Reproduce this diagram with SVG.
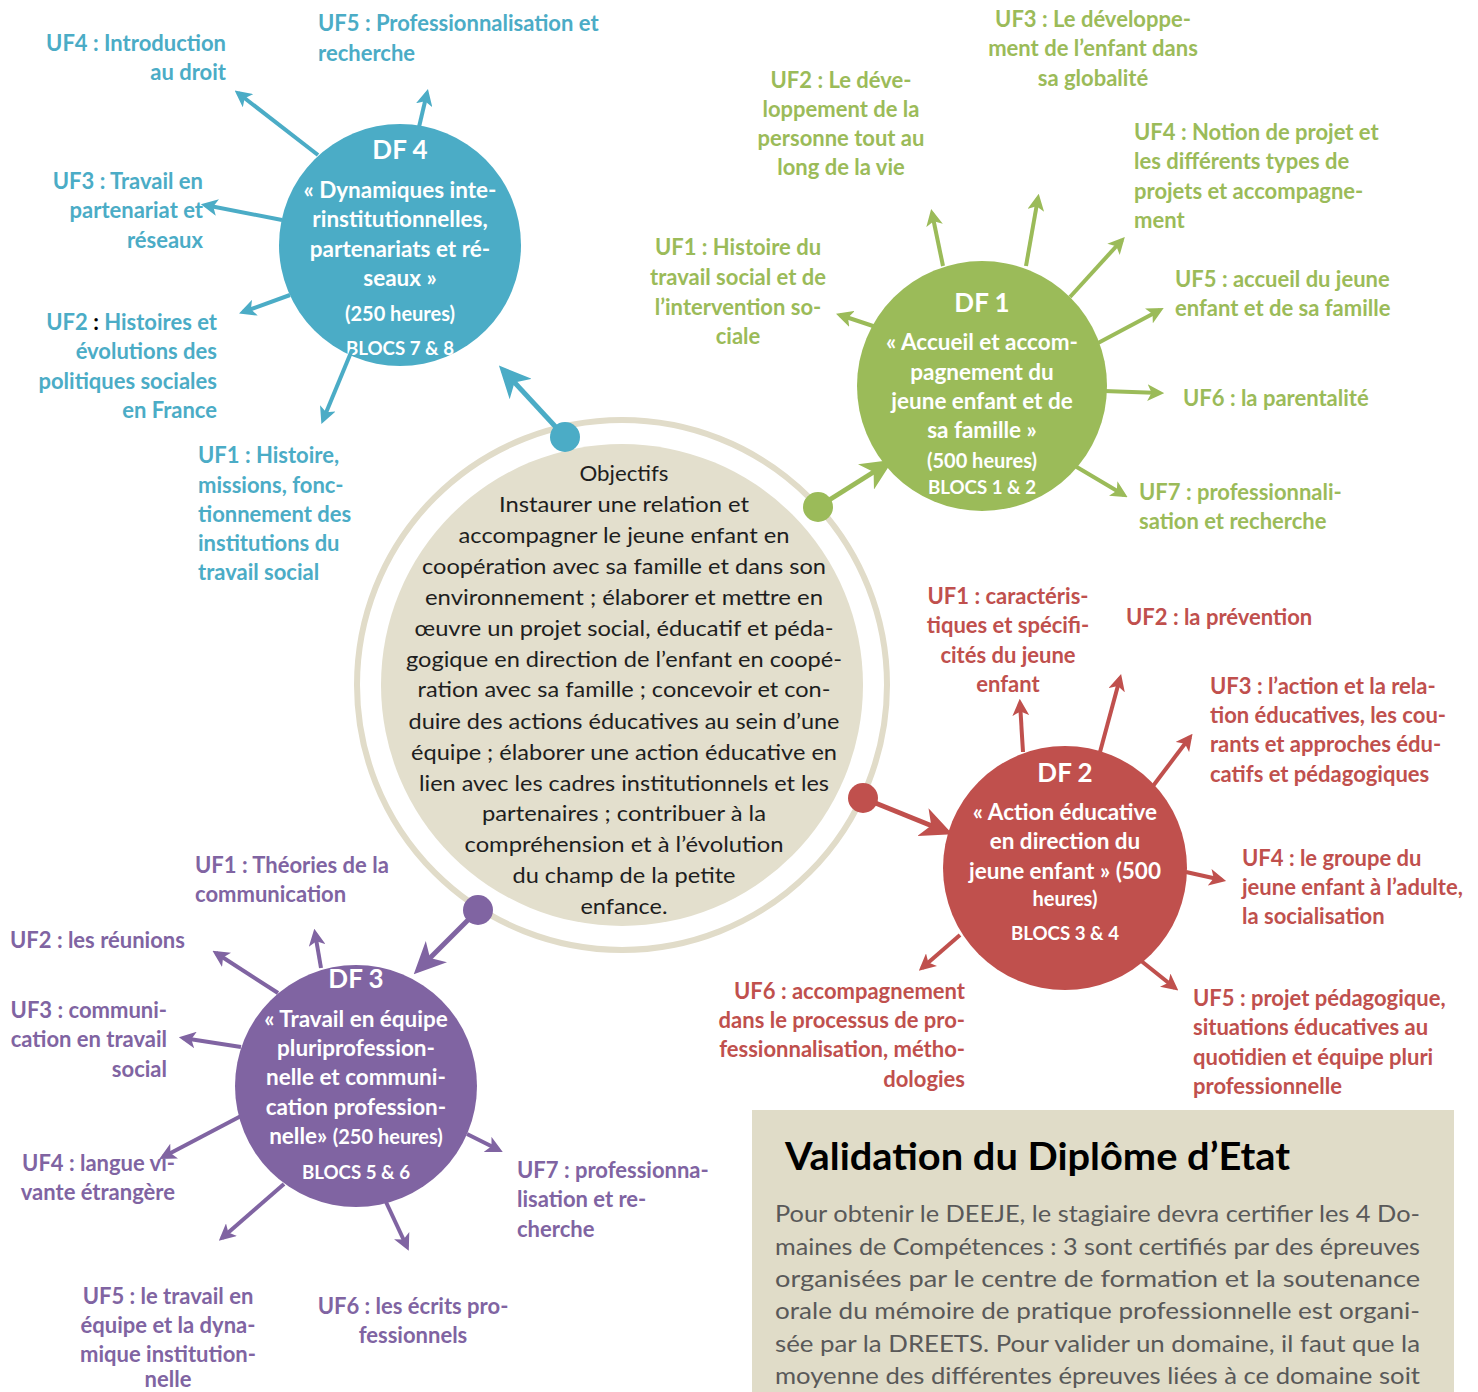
<svg xmlns="http://www.w3.org/2000/svg" width="1478" height="1392" viewBox="0 0 1478 1392">
<style>
  text { font-family: Lato, "Open Sans", "Liberation Sans", sans-serif; }
  .lbl { font-weight: bold; font-size: 22px; }
  .b { fill: #4bacc6; } .g { fill: #9bbb59; } .r { fill: #c0504d; } .p { fill: #8064a2; }
  .e { text-anchor: end; } .m { text-anchor: middle; }
  .nt { fill: #ffffff; font-weight: bold; text-anchor: middle; font-size: 22.5px; }
  .ttl { font-size: 26px; }
  .hrs { font-size: 20px; }
  .blc { font-size: 18.7px; }
  .ctr { font-size: 22px; fill: #1e1e1e; text-anchor: middle; }
  .val { font-size: 23px; fill: #595959; }
  .ln-b { stroke: #4bacc6; } .ln-g { stroke: #9bbb59; } .ln-r { stroke: #c0504d; } .ln-p { stroke: #8064a2; }
  .out line { stroke-width: 4; fill: none; }
  .in line { stroke-width: 5; fill: none; }
</style>
<defs>
  <marker id="ab" viewBox="0 0 10 10" refX="7.5" refY="5" markerWidth="4.2" markerHeight="4.2" orient="auto"><path d="M0,0 L10,5 L0,10 L2.5,5 z" fill="#4bacc6"/></marker>
  <marker id="ag" viewBox="0 0 10 10" refX="7.5" refY="5" markerWidth="4.2" markerHeight="4.2" orient="auto"><path d="M0,0 L10,5 L0,10 L2.5,5 z" fill="#9bbb59"/></marker>
  <marker id="ar" viewBox="0 0 10 10" refX="7.5" refY="5" markerWidth="4.2" markerHeight="4.2" orient="auto"><path d="M0,0 L10,5 L0,10 L2.5,5 z" fill="#c0504d"/></marker>
  <marker id="ap" viewBox="0 0 10 10" refX="7.5" refY="5" markerWidth="4.2" markerHeight="4.2" orient="auto"><path d="M0,0 L10,5 L0,10 L2.5,5 z" fill="#8064a2"/></marker>
  <marker id="ib" viewBox="0 0 32 30" refX="26" refY="15" markerWidth="32" markerHeight="30" markerUnits="userSpaceOnUse" orient="auto"><path d="M0,0 L32,15 L0,30 L9,15 z" fill="#4bacc6"/></marker>
  <marker id="ig" viewBox="0 0 32 30" refX="26" refY="15" markerWidth="32" markerHeight="30" markerUnits="userSpaceOnUse" orient="auto"><path d="M0,0 L32,15 L0,30 L9,15 z" fill="#9bbb59"/></marker>
  <marker id="ir" viewBox="0 0 32 30" refX="26" refY="15" markerWidth="32" markerHeight="30" markerUnits="userSpaceOnUse" orient="auto"><path d="M0,0 L32,15 L0,30 L9,15 z" fill="#c0504d"/></marker>
  <marker id="ip" viewBox="0 0 32 30" refX="26" refY="15" markerWidth="32" markerHeight="30" markerUnits="userSpaceOnUse" orient="auto"><path d="M0,0 L32,15 L0,30 L9,15 z" fill="#8064a2"/></marker>
</defs>
<rect width="1478" height="1392" fill="#ffffff"/>

<!-- Central objectives -->
<g id="objectifs">
  <circle cx="622" cy="685" r="265" fill="none" stroke="#e1dcc9" stroke-width="6"/>
  <circle cx="622" cy="685" r="241" fill="#e3dfcd"/>
  <text class="ctr" x="624" y="481" textLength="89" lengthAdjust="spacingAndGlyphs">Objectifs</text>
  <text class="ctr" x="624" y="512" textLength="250" lengthAdjust="spacingAndGlyphs">Instaurer une relation et</text>
  <text class="ctr" x="624" y="543" textLength="331" lengthAdjust="spacingAndGlyphs">accompagner le jeune enfant en</text>
  <text class="ctr" x="624" y="574" textLength="404" lengthAdjust="spacingAndGlyphs">coopération avec sa famille et dans son</text>
  <text class="ctr" x="624" y="605" textLength="398" lengthAdjust="spacingAndGlyphs">environnement ; élaborer et mettre en</text>
  <text class="ctr" x="624" y="636" textLength="419" lengthAdjust="spacingAndGlyphs">œuvre un projet social, éducatif et péda-</text>
  <text class="ctr" x="624" y="667" textLength="436" lengthAdjust="spacingAndGlyphs">gogique en direction de l’enfant en coopé-</text>
  <text class="ctr" x="624" y="697" textLength="413" lengthAdjust="spacingAndGlyphs">ration avec sa famille ; concevoir et con-</text>
  <text class="ctr" x="624" y="729" textLength="431" lengthAdjust="spacingAndGlyphs">duire des actions éducatives au sein d’une</text>
  <text class="ctr" x="624" y="760" textLength="426" lengthAdjust="spacingAndGlyphs">équipe ; élaborer une action éducative en</text>
  <text class="ctr" x="624" y="791" textLength="410" lengthAdjust="spacingAndGlyphs">lien avec les cadres institutionnels et les</text>
  <text class="ctr" x="624" y="821" textLength="284" lengthAdjust="spacingAndGlyphs">partenaires ; contribuer à la</text>
  <text class="ctr" x="624" y="852" textLength="319" lengthAdjust="spacingAndGlyphs">compréhension et à l’évolution</text>
  <text class="ctr" x="624" y="883" textLength="223" lengthAdjust="spacingAndGlyphs">du champ de la petite</text>
  <text class="ctr" x="624" y="914" textLength="87" lengthAdjust="spacingAndGlyphs">enfance.</text>
</g>

<!-- Connectors -->
<g id="connectors">
  <g class="in">
    <line class="ln-b" x1="565" y1="437" x2="503" y2="370" marker-end="url(#ib)"/>
    <line class="ln-g" x1="818" y1="507" x2="888" y2="463" marker-end="url(#ig)"/>
    <line class="ln-r" x1="863" y1="798" x2="947" y2="832" marker-end="url(#ir)"/>
    <line class="ln-p" x1="478" y1="910" x2="418" y2="970" marker-end="url(#ip)"/>
    <circle cx="565" cy="437" r="15" fill="#4bacc6"/>
    <circle cx="818" cy="507" r="15" fill="#9bbb59"/>
    <circle cx="863" cy="798" r="15" fill="#c0504d"/>
    <circle cx="478" cy="910" r="15" fill="#8064a2"/>
  </g>
  <g class="out">
    <line class="ln-b" x1="318" y1="155" x2="238" y2="93" marker-end="url(#ab)"/>
    <line class="ln-b" x1="419" y1="127" x2="427" y2="93" marker-end="url(#ab)"/>
    <line class="ln-b" x1="282" y1="220" x2="205" y2="205" marker-end="url(#ab)"/>
    <line class="ln-b" x1="290" y1="295" x2="243" y2="312" marker-end="url(#ab)"/>

    <line class="ln-g" x1="876" y1="327" x2="840" y2="315" marker-end="url(#ag)"/>
    <line class="ln-g" x1="943" y1="266" x2="932" y2="213" marker-end="url(#ag)"/>
    <line class="ln-g" x1="1026" y1="266" x2="1038" y2="198" marker-end="url(#ag)"/>
    <line class="ln-g" x1="1070" y1="297" x2="1122" y2="240" marker-end="url(#ag)"/>
    <line class="ln-g" x1="1098" y1="343" x2="1160" y2="310" marker-end="url(#ag)"/>
    <line class="ln-g" x1="1104" y1="391" x2="1160" y2="393" marker-end="url(#ag)"/>
    <line class="ln-g" x1="1075" y1="466" x2="1124" y2="495" marker-end="url(#ag)"/>

    <line class="ln-r" x1="1023" y1="752" x2="1020" y2="703" marker-end="url(#ar)"/>
    <line class="ln-r" x1="1100" y1="752" x2="1120" y2="678" marker-end="url(#ar)"/>
    <line class="ln-r" x1="1153" y1="786" x2="1190" y2="737" marker-end="url(#ar)"/>
    <line class="ln-r" x1="1186" y1="872" x2="1222" y2="880" marker-end="url(#ar)"/>
    <line class="ln-r" x1="1140" y1="960" x2="1175" y2="988" marker-end="url(#ar)"/>
    <line class="ln-r" x1="960" y1="935" x2="922" y2="968" marker-end="url(#ar)"/>

    <line class="ln-p" x1="321" y1="968" x2="315" y2="933" marker-end="url(#ap)"/>
    <line class="ln-p" x1="278" y1="993" x2="216" y2="953" marker-end="url(#ap)"/>
    <line class="ln-p" x1="241" y1="1047" x2="183" y2="1038" marker-end="url(#ap)"/>
    <line class="ln-p" x1="241" y1="1116" x2="163" y2="1157" marker-end="url(#ap)"/>
    <line class="ln-p" x1="284" y1="1184" x2="222" y2="1238" marker-end="url(#ap)"/>
    <line class="ln-p" x1="386" y1="1202" x2="407" y2="1247" marker-end="url(#ap)"/>
    <line class="ln-p" x1="467" y1="1134" x2="499" y2="1150" marker-end="url(#ap)"/>
  </g>
</g>

<!-- DF 4 -->
<g id="df4">
  <circle cx="400" cy="245" r="121" fill="#4bacc6"/>
  <text class="nt ttl" x="400" y="159">DF 4</text>
  <text class="nt" x="400" y="198">« Dynamiques inte-</text>
  <text class="nt" x="400" y="227">rinstitutionnelles,</text>
  <text class="nt" x="400" y="257">partenariats et ré-</text>
  <text class="nt" x="400" y="286">seaux »</text>
  <text class="nt hrs" x="400" y="321">(250 heures)</text>
  <text class="nt blc" x="400" y="355">BLOCS 7 &amp; 8</text>
</g>
<g id="df4-link-uf1" class="out"><line class="ln-b" x1="352" y1="350" x2="323" y2="420" marker-end="url(#ab)"/></g>
<g id="df4-uf4" class="lbl b e"><text x="226" y="51">UF4 : Introduction</text><text x="226" y="80">au droit</text></g>
<g id="df4-uf5" class="lbl b"><text x="318" y="31">UF5 : Professionnalisation et</text><text x="318" y="61">recherche</text></g>
<g id="df4-uf3" class="lbl b e"><text x="203" y="189">UF3 : Travail en</text><text x="203" y="218">partenariat et</text><text x="203" y="248">réseaux</text></g>
<g id="df4-uf2" class="lbl b e"><text x="217" y="330">UF2 <tspan fill="#000000">:</tspan> Histoires et</text><text x="217" y="359">évolutions des</text><text x="217" y="389">politiques sociales</text><text x="217" y="418">en France</text></g>
<g id="df4-uf1" class="lbl b"><text x="198" y="463">UF1 : Histoire,</text><text x="198" y="493">missions, fonc-</text><text x="198" y="522">tionnement des</text><text x="198" y="551">institutions du</text><text x="198" y="580">travail social</text></g>

<!-- DF 1 -->
<g id="df1">
  <circle cx="982" cy="386" r="125" fill="#9bbb59"/>
  <text class="nt ttl" x="982" y="312">DF 1</text>
  <text class="nt" x="982" y="350">« Accueil et accom-</text>
  <text class="nt" x="982" y="380">pagnement du</text>
  <text class="nt" x="982" y="409">jeune enfant et de</text>
  <text class="nt" x="982" y="438">sa famille »</text>
  <text class="nt hrs" x="982" y="468">(500 heures)</text>
  <text class="nt blc" x="982" y="494">BLOCS 1 &amp; 2</text>
</g>
<g id="df1-uf1" class="lbl g m"><text x="738" y="255">UF1 :  Histoire du</text><text x="738" y="285">travail social et de</text><text x="738" y="315">l’intervention so-</text><text x="738" y="344">ciale</text></g>
<g id="df1-uf2" class="lbl g m"><text x="841" y="88">UF2 :  Le déve-</text><text x="841" y="117">loppement de la</text><text x="841" y="146">personne tout au</text><text x="841" y="175">long de la vie</text></g>
<g id="df1-uf3" class="lbl g m"><text x="1093" y="27">UF3 : Le développe-</text><text x="1093" y="56">ment de l’enfant dans</text><text x="1093" y="86">sa globalité</text></g>
<g id="df1-uf4" class="lbl g"><text x="1134" y="140">UF4 : Notion de projet et</text><text x="1134" y="169">les différents types de</text><text x="1134" y="199">projets et accompagne-</text><text x="1134" y="228">ment</text></g>
<g id="df1-uf5" class="lbl g"><text x="1175" y="287">UF5 : accueil du jeune</text><text x="1175" y="316">enfant et de sa famille</text></g>
<g id="df1-uf6" class="lbl g"><text x="1183" y="406">UF6 : la parentalité</text></g>
<g id="df1-uf7" class="lbl g"><text x="1139" y="500">UF7 : professionnali-</text><text x="1139" y="529">sation et recherche</text></g>

<!-- DF 2 -->
<g id="df2">
  <circle cx="1065" cy="868" r="122" fill="#c0504d"/>
  <text class="nt ttl" x="1065" y="782">DF 2</text>
  <text class="nt" x="1065" y="820">« Action éducative</text>
  <text class="nt" x="1065" y="849">en direction du</text>
  <text class="nt" x="1065" y="879">jeune enfant » (500</text>
  <text class="nt hrs" x="1065" y="906">heures)</text>
  <text class="nt blc" x="1065" y="940">BLOCS 3 &amp; 4</text>
</g>
<g id="df2-uf1" class="lbl r m"><text x="1008" y="604">UF1 : caractéris-</text><text x="1008" y="633">tiques et spécifi-</text><text x="1008" y="663">cités du jeune</text><text x="1008" y="692">enfant</text></g>
<g id="df2-uf2" class="lbl r"><text x="1126" y="625">UF2 : la prévention</text></g>
<g id="df2-uf3" class="lbl r"><text x="1210" y="694">UF3 : l’action et la rela-</text><text x="1210" y="723">tion éducatives, les cou-</text><text x="1210" y="752">rants et approches édu-</text><text x="1210" y="782">catifs et pédagogiques</text></g>
<g id="df2-uf4" class="lbl r"><text x="1242" y="866">UF4 : le groupe du</text><text x="1242" y="895">jeune enfant à l’adulte,</text><text x="1242" y="924">la socialisation</text></g>
<g id="df2-uf5" class="lbl r"><text x="1193" y="1006">UF5 : projet pédagogique,</text><text x="1193" y="1035">situations éducatives au</text><text x="1193" y="1065">quotidien et équipe pluri</text><text x="1193" y="1094">professionnelle</text></g>
<g id="df2-uf6" class="lbl r e"><text x="965" y="999">UF6 : accompagnement</text><text x="965" y="1028">dans le processus de pro-</text><text x="965" y="1057">fessionnalisation, métho-</text><text x="965" y="1087">dologies</text></g>

<!-- DF 3 -->
<g id="df3">
  <circle cx="356" cy="1086" r="121" fill="#8064a2"/>
  <text class="nt ttl" x="356" y="988">DF 3</text>
  <text class="nt" x="356" y="1027">« Travail en équipe</text>
  <text class="nt" x="356" y="1056">pluriprofession-</text>
  <text class="nt" x="356" y="1085">nelle  et communi-</text>
  <text class="nt" x="356" y="1115">cation profession-</text>
  <text class="nt" x="356" y="1144">nelle» <tspan class="hrs">(250 heures)</tspan></text>
  <text class="nt blc" x="356" y="1179">BLOCS 5 &amp; 6</text>
</g>
<g id="df3-uf1" class="lbl p"><text x="195" y="873">UF1 : Théories de la</text><text x="195" y="902">communication</text></g>
<g id="df3-uf2" class="lbl p"><text x="10" y="948">UF2 : les réunions</text></g>
<g id="df3-uf3" class="lbl p e"><text x="167" y="1018">UF3 : communi-</text><text x="167" y="1047">cation en travail</text><text x="167" y="1077">social</text></g>
<g id="df3-uf4" class="lbl p e"><text x="175" y="1171">UF4 : langue vi-</text><text x="175" y="1200">vante étrangère</text></g>
<g id="df3-uf5" class="lbl p m"><text x="168" y="1304">UF5 : le travail en</text><text x="168" y="1333">équipe et la dyna-</text><text x="168" y="1362">mique institution-</text><text x="168" y="1387">nelle</text></g>
<g id="df3-uf6" class="lbl p m"><text x="413" y="1314">UF6 : les écrits pro-</text><text x="413" y="1343">fessionnels</text></g>
<g id="df3-uf7" class="lbl p"><text x="517" y="1178">UF7 : professionna-</text><text x="517" y="1207">lisation et re-</text><text x="517" y="1237">cherche</text></g>

<!-- Validation box -->
<g id="validation">
  <rect x="752" y="1110" width="702" height="290" fill="#e0dcc8"/>
  <text x="785" y="1170" font-size="38" font-weight="bold" fill="#000000" textLength="505" lengthAdjust="spacingAndGlyphs">Validation du Diplôme d’Etat</text>
  <text class="val" x="775" y="1222" textLength="645" lengthAdjust="spacingAndGlyphs">Pour obtenir le DEEJE, le stagiaire devra certifier les 4 Do-</text>
  <text class="val" x="775" y="1255" textLength="645" lengthAdjust="spacingAndGlyphs">maines de Compétences : 3 sont certifiés par des épreuves</text>
  <text class="val" x="775" y="1287" textLength="645" lengthAdjust="spacingAndGlyphs">organisées par le centre de formation et la soutenance</text>
  <text class="val" x="775" y="1319" textLength="645" lengthAdjust="spacingAndGlyphs">orale du mémoire de pratique professionnelle est organi-</text>
  <text class="val" x="775" y="1352" textLength="645" lengthAdjust="spacingAndGlyphs">sée par la DREETS. Pour valider un domaine, il faut que la</text>
  <text class="val" x="775" y="1384" textLength="645" lengthAdjust="spacingAndGlyphs">moyenne des différentes épreuves liées à ce domaine soit</text>
</g>
</svg>
